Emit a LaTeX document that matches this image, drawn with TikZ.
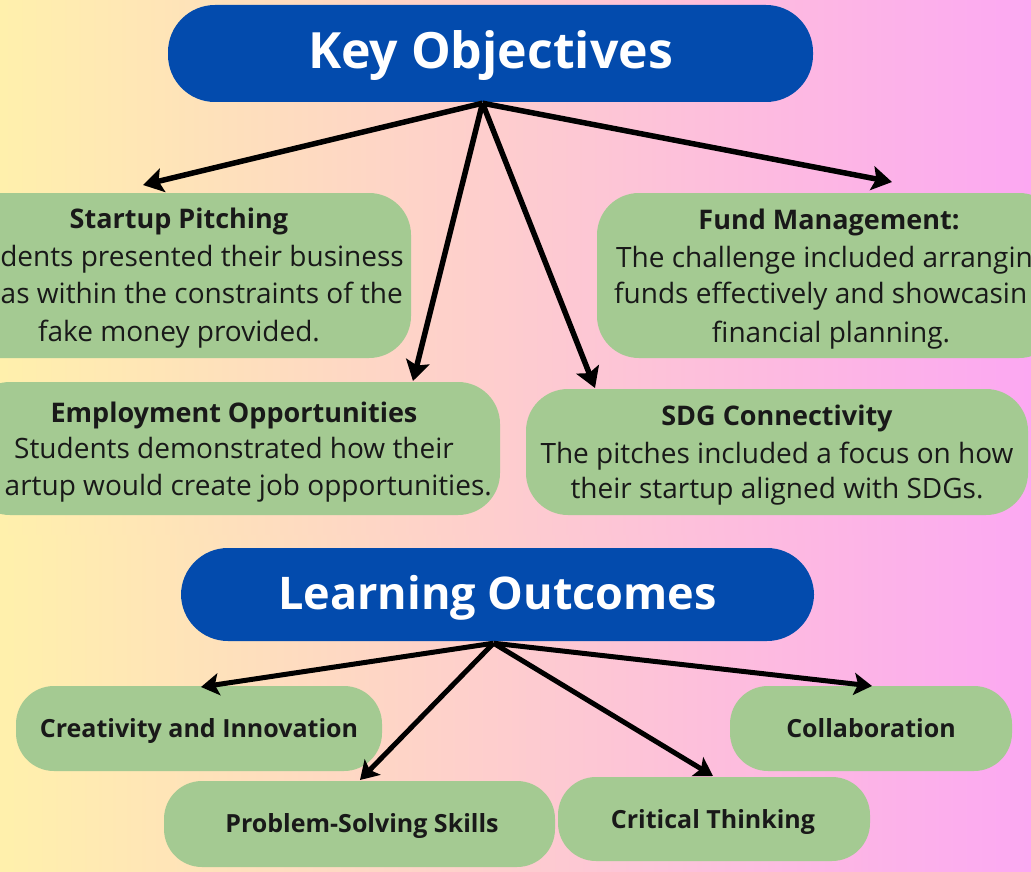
\documentclass[tikz,border=0pt]{standalone}
\usepackage{fontspec}
\setmainfont{Open Sans}
\usetikzlibrary{arrows.meta}
\definecolor{pillblue}{RGB}{3,75,173}
\definecolor{boxgreen}{RGB}{164,202,146}
\definecolor{bgyellow}{RGB}{255,240,172}
\definecolor{bgpink}{RGB}{255,210,204}
\definecolor{bgmagenta}{RGB}{252,168,242}
\definecolor{txt}{RGB}{25,25,25}
\begin{document}
\begin{tikzpicture}[x=1pt,y=-1pt,
  bg/.style={left color=bgyellow, middle color=bgpink, right color=bgmagenta},
  pill/.style={fill=pillblue, rounded corners=47pt, inner sep=0pt},
  gbox/.style={fill=boxgreen, rounded corners=42pt, inner sep=0pt},
  lbox/.style={fill=boxgreen, rounded corners=38pt, inner sep=0pt},
  pilltext/.style={text=white, inner sep=0pt, anchor=base},
  ttl/.style={font=\fontsize{27}{34}\selectfont\bfseries, text=txt, inner sep=0pt},
  body/.style={font=\fontsize{28}{37}\selectfont, text=txt, inner sep=0pt},
  lbl/.style={font=\fontsize{25}{30}\selectfont\bfseries, text=txt, inner sep=0pt, anchor=base},
  arr/.style={line width=5.5pt, -{Stealth[length=20pt,width=24pt,inset=4pt]}},
  arrb/.style={line width=5pt, -{Stealth[length=18pt,width=22pt,inset=4pt]}}
]
\useasboundingbox (0,0) rectangle (1031,872);
\clip (0,0) rectangle (1031,872);
% backgrounds
\fill[bg] (0,0) rectangle (1031,872);
\fill[bg] (6,535) rectangle (1031,872);

% ---------- Key Objectives ----------
\node[pill, minimum width=645pt, minimum height=97pt] (ko) at (490.5,53.5) {};
\node[pilltext, font=\fontsize{50}{58}\selectfont\bfseries] (koT) at (490.5,69) {Key Objectives};

\node[gbox, minimum width=464pt, minimum height=165pt] (sp) at (179,275.5) {};
\node[gbox, minimum width=532pt, minimum height=133pt] (emp) at (234,448.5) {};
\node[gbox, minimum width=464pt, minimum height=165pt] (fund) at (829,275.5) {};
\node[gbox, minimum width=502pt, minimum height=126pt] (sdg) at (777,452) {};

% Startup Pitching
\node[ttl, anchor=base] (spT) at (179,228) {Startup Pitching};
\node[body, anchor=base east] (spL1) at (404,266) {dents presented their business};
\node[body, anchor=base east] (spL2) at (403,303) {as within the constraints of the};
\node[body, anchor=base] (spL3) at (179,341) {fake money provided.};

% Employment Opportunities
\node[ttl, anchor=base] (empT) at (234,422) {Employment Opportunities};
\node[body, anchor=base] (empL1) at (234,458) {Students demonstrated how their};
\node[body, anchor=base east] (empL2) at (492,495) {artup would create job opportunities.};

% Fund Management
\node[ttl, anchor=base] (fundT) at (829,229) {Fund Management:};
\node[body, anchor=base west] (fundL1) at (616,267) {The challenge included arrangin};
\node[body, anchor=base west] (fundL2) at (614,303) {funds effectively and showcasin};
\node[body, anchor=base] (fundL3) at (831,342) {financial planning.};

% SDG Connectivity
\node[ttl, anchor=base] (sdgT) at (777,425) {SDG Connectivity};
\node[body, anchor=base] (sdgL1) at (777,463) {The pitches included a focus on how};
\node[body, anchor=base] (sdgL2) at (777,498) {their startup aligned with SDGs.};

% arrows top
\coordinate (k1) at (143,185);
\coordinate (k2) at (413,381);
\coordinate (k3) at (595,388);
\coordinate (k4) at (892,182);
\draw[arr] ([xshift=-8pt,yshift=-1pt]ko.south) -- (k1);
\draw[arr] ([xshift=-8pt,yshift=-1pt]ko.south) -- (k2);
\draw[arr] ([xshift=-8pt,yshift=-1pt]ko.south) -- (k3);
\draw[arr] ([xshift=-8pt,yshift=-1pt]ko.south) -- (k4);

% ---------- Learning Outcomes ----------
\node[pill, minimum width=633pt, minimum height=93pt] (lo) at (497.5,594.5) {};
\node[pilltext, font=\fontsize{45}{54}\selectfont\bfseries] (loT) at (497.5,609) {Learning Outcomes};

\node[lbox, minimum width=366pt, minimum height=85pt] (cre) at (199,728.5) {};
\node[lbox, minimum width=282pt, minimum height=85pt] (col) at (871,728.5) {};
\node[lbox, minimum width=391pt, minimum height=86pt] (ps) at (359.5,824) {};
\node[lbox, minimum width=312pt, minimum height=84pt] (ct) at (714,819) {};

\node[lbl] (creT) at (199,737) {Creativity and Innovation};
\node[lbl] (colT) at (871,737) {Collaboration};
\node[lbl] (psT) at (362,832) {Problem-Solving Skills};
\node[lbl] (ctT) at (713,828) {Critical Thinking};

\coordinate (l1) at (201,687);
\coordinate (l2) at (360,780);
\coordinate (l3) at (713,776);
\coordinate (l4) at (872,686);
\draw[arrb] ([xshift=-4pt,yshift=-2pt]lo.south) -- (l1);
\draw[arrb] ([xshift=-4pt,yshift=-2pt]lo.south) -- (l2);
\draw[arrb] ([xshift=-4pt,yshift=-2pt]lo.south) -- (l3);
\draw[arrb] ([xshift=-4pt,yshift=-2pt]lo.south) -- (l4);
\end{tikzpicture}
\end{document}
